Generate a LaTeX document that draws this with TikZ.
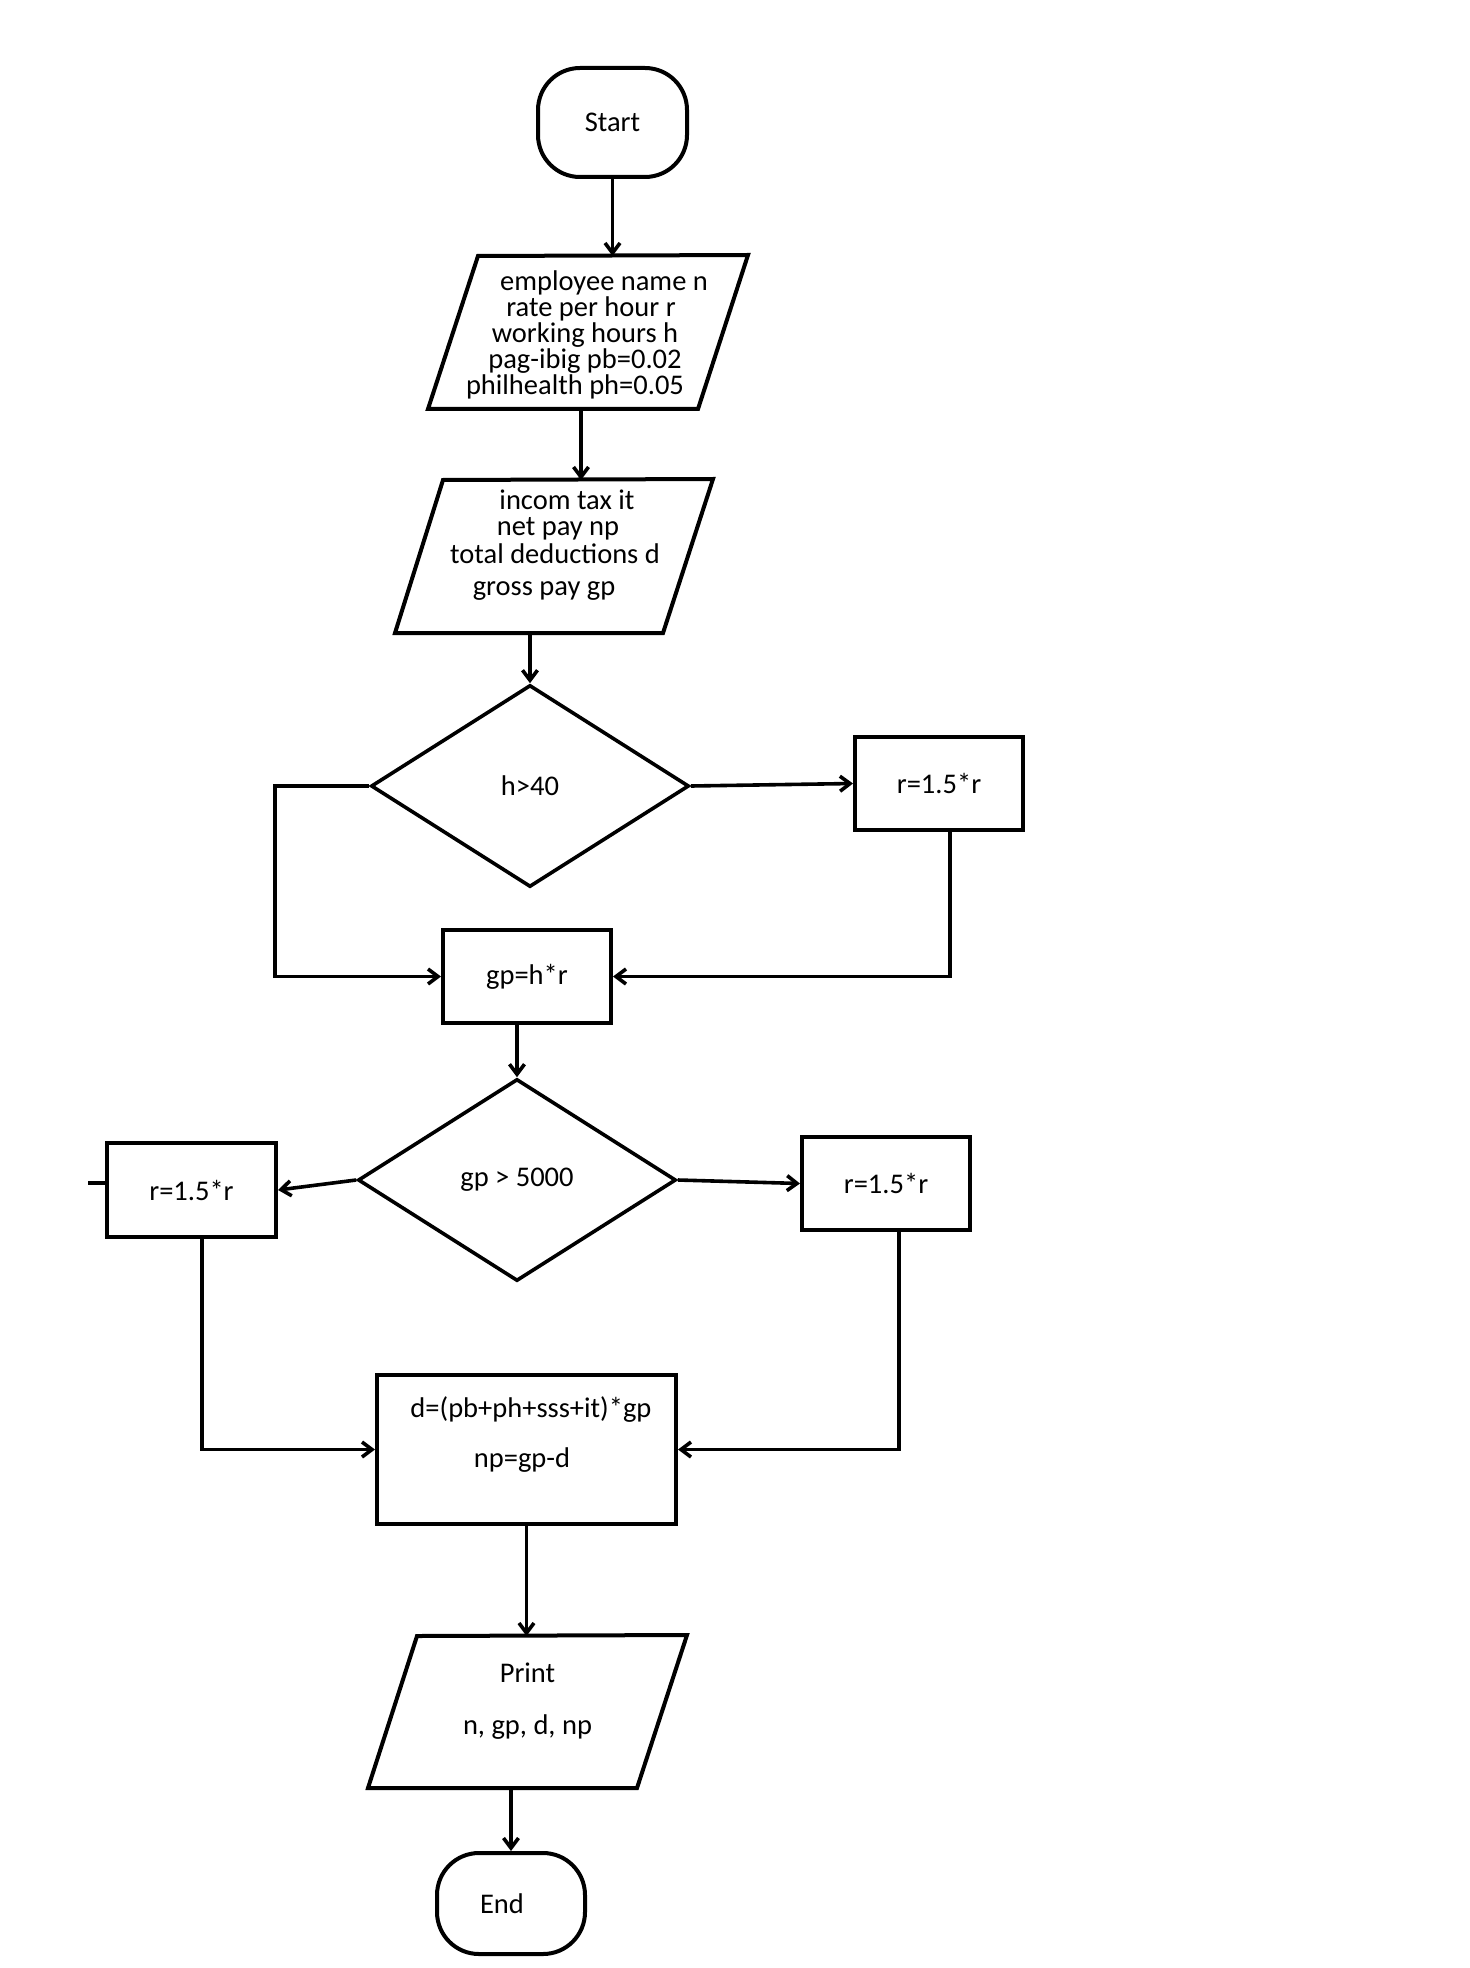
\documentclass[tikz,border=0pt]{standalone}
\usepackage{fontspec}
\setmainfont{Carlito}
\usetikzlibrary{shapes.geometric,arrows.meta}
\begin{document}
\begin{tikzpicture}[x=0.5pt,y=-0.5pt,
  line width=2pt,
  every node/.style={font=\fontsize{14.25pt}{13pt}\selectfont},
  term/.style={draw, rounded corners=21pt, inner sep=0},
  procbox/.style={draw, minimum width=84pt, minimum height=46.5pt, inner sep=0},
  decision/.style={draw, diamond, inner sep=0, line width=1.8pt, minimum width=159pt, minimum height=101pt},
  para/.style={draw, line join=miter},
  conn/.style={line width=1.8pt, -{Straight Barb[length=5pt,width=7.5pt]}},
  plain/.style={line width=1.8pt}
]
\useasboundingbox (0,0) rectangle (1470,1968);

% Start
\node[term, minimum width=74.5pt, minimum height=54.5pt] (start) at (612.5,122.5) {Start};

% Input 1
\coordinate (p1tl) at (478,256);
\coordinate (p1tr) at (748,255);
\coordinate (p1br) at (698,409);
\coordinate (p1bl) at (428,409);
\coordinate (p1b) at (581,409);
\draw[para] (p1tl) -- (p1tr) -- (p1br) -- (p1bl) -- cycle;
\node[align=center] (p1) at (585,334.5) {\hspace*{19pt}employee name n\\ \hspace*{6pt}rate per hour r\\ working hours h\hspace*{5pt}\\ pag-ibig pb=0.02\hspace*{10pt}\\ philhealth ph=0.05\hspace*{10pt}};

% Input 2
\coordinate (p2tl) at (443,480);
\coordinate (p2tr) at (713,479);
\coordinate (p2br) at (663,633);
\coordinate (p2bl) at (395,633);
\draw[para] (p2tl) -- (p2tr) -- (p2br) -- (p2bl) -- cycle;
\node[align=center] (p2) at (555,545) {\hspace*{12pt}incom tax it\\[0pt] \hspace*{3pt}net pay np\\[1pt] total deductions d\hspace*{1pt}\\[3pt] gross pay gp\hspace*{11pt}};

% Decision 1
\node[decision] (d1) at (530,786) {h>40};
\node[procbox] (r1) at (939,783.5) {r=1.5*r};
\node[procbox] (gp) at (527,976.5) {gp=h*r};
\coordinate (c1) at (275,786);

% Decision 2
\node[decision] (d2) at (517,1180) {gp > 5000};
\node[procbox, minimum width=84.5pt, minimum height=47pt] (rl) at (191.5,1190) {r=1.5*r};
\node[procbox] (rr) at (886,1183.5) {r=1.5*r};
\coordinate (c3) at (88,1183);

% Computation box
\node[procbox, minimum width=149.5pt, minimum height=74.5pt,
  label={[name=dtext, align=center, yshift=7.25pt, font=\fontsize{14.25pt}{25pt}\selectfont]center:\hspace*{4.5pt}d=(pb+ph+sss+it)*gp\\ np=gp-d\hspace*{4.5pt}}] (dbox) at (526.5,1449.5) {};

% Output
\coordinate (prtl) at (417,1636);
\coordinate (prtr) at (687,1635);
\coordinate (prbr) at (637,1788);
\coordinate (prbl) at (368,1788);
\draw[para] (prtl) -- (prtr) -- (prbr) -- (prbl) -- cycle;
\node[align=center, font=\fontsize{14.25pt}{26pt}\selectfont] (pr) at (527.5,1701) {Print\\ n, gp, d, np};

% End
\node[term, minimum width=74pt, minimum height=50.5pt] (end) at (511,1903.5) {\hspace*{-9pt}End};

% Connectors
\draw[conn] (start.south) -- (start.south |- p1tl);
\draw[conn] (p1b) -- (p1b |- p2tl);
\draw[conn] (d1.north |- p2bl) -- (d1.north);
\draw[conn] (d1.east) -- (r1.west);
\draw[conn] (d1.west) -- (c1) |- (gp.west);
\draw[conn] ([xshift=5.5pt]r1.south) |- (gp.east);
\draw[conn] (gp.south -| d2.north) -- (d2.north);
\draw[conn] (d2.west) -- (rl.east);
\draw[conn] (d2.east) -- (rr.west);
\draw[plain] (c3) -- (c3 -| rl.west);
\draw[conn] ([xshift=5.25pt]rl.south) |- (dbox.west);
\draw[conn] ([xshift=6.5pt]rr.south) |- (dbox.east);
\draw[conn] (dbox.south) -- (dbox.south |- prtl);
\draw[conn] (end.north |- prbl) -- (end.north);
\end{tikzpicture}
\end{document}
